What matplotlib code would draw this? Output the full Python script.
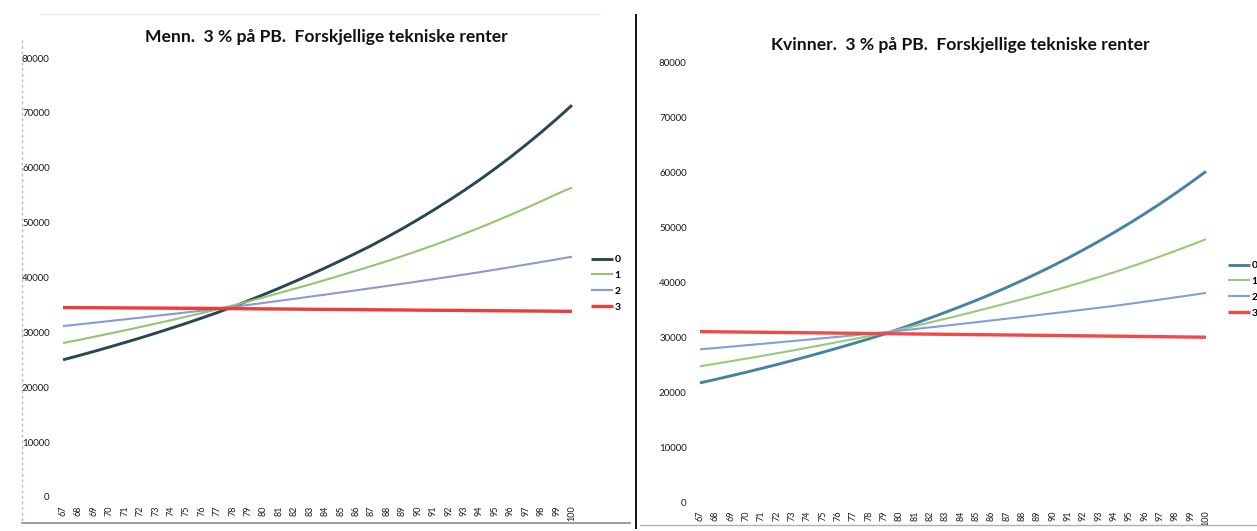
import matplotlib
matplotlib.use("Agg")
import matplotlib.pyplot as plt
from matplotlib.lines import Line2D

plt.rcParams['font.family'] = ['Lato', 'DejaVu Sans']

ages = list(range(67, 101))
age_labels = [str(a) for a in ages]
series_names = ["0", "1", "2", "3"]

# Men, 3 % on PB, technical interest 0..3 %
men_r0 = [25000, 25750, 26520, 27320, 28140, 28980, 29850, 30750, 31670, 32620,
          33600, 34660, 35750, 36880, 38040, 39240, 40480, 41750, 43070, 44430,
          45830, 47340, 48900, 50540, 52240, 54010, 55850, 57770, 59800, 61920,
          64150, 66460, 68880, 71400]
men_r1 = [28050, 28610, 29180, 29770, 30360, 30970, 31590, 32220, 32870, 33520,
          34190, 34910, 35640, 36390, 37160, 37940, 38730, 39550, 40380, 41230,
          42090, 42970, 43900, 44860, 45850, 46880, 47960, 49060, 50220, 51400,
          52630, 53890, 55190, 56400]
men_r2 = [31150, 31450, 31750, 32060, 32370, 32680, 33000, 33320, 33640, 33960,
          34290, 34640, 35000, 35370, 35740, 36120, 36500, 36880, 37270, 37660,
          38060, 38460, 38860, 39270, 39690, 40110, 40530, 40960, 41420, 41880,
          42350, 42820, 43300, 43790]
men_r3 = [34520, 34500, 34490, 34470, 34460, 34440, 34430, 34410, 34390, 34380,
          34360, 34330, 34310, 34280, 34260, 34240, 34210, 34190, 34170, 34140,
          34120, 34100, 34080, 34050, 34030, 34010, 33990, 33970, 33940, 33920,
          33900, 33880, 33850, 33830]

# Women, 3 % on PB, technical interest 0..3 %
women_r0 = [21700, 22330, 22980, 23640, 24330, 25030, 25760, 26510, 27280, 28070,
            28880, 29720, 30580, 31530, 32510, 33520, 34560, 35630, 36730, 37890,
            39100, 40360, 41670, 43040, 44460, 45950, 47490, 49110, 50780, 52530,
            54340, 56240, 58210, 60250]
women_r1 = [24730, 25180, 25650, 26120, 26600, 27090, 27590, 28100, 28620, 29150,
            29690, 30240, 30800, 31420, 32060, 32720, 33390, 34070, 34770, 35480,
            36210, 36950, 37710, 38480, 39290, 40120, 40980, 41860, 42780, 43740,
            44730, 45760, 46810, 47890]
women_r2 = [27820, 28060, 28310, 28560, 28810, 29060, 29320, 29580, 29840, 30100,
            30370, 30640, 30910, 31210, 31510, 31820, 32130, 32440, 32760, 33080,
            33400, 33720, 34050, 34380, 34710, 35050, 35390, 35730, 36110, 36500,
            36890, 37290, 37690, 38100]
women_r3 = [31050, 31020, 30990, 30960, 30930, 30900, 30870, 30840, 30810, 30780,
            30750, 30720, 30690, 30650, 30620, 30590, 30560, 30530, 30500, 30470,
            30440, 30410, 30380, 30350, 30310, 30280, 30250, 30220, 30190, 30160,
            30130, 30090, 30060, 30030]

y_ticks = [0, 10000, 20000, 30000, 40000, 50000, 60000, 70000, 80000]

W, H = 1257, 531
fig = plt.figure(figsize=(W / 100, H / 100), dpi=100)
fig.patch.set_facecolor("white")


def px_rect(x0, x1, y_top, y_bottom):
    return [x0 / W, 1 - y_bottom / H, (x1 - x0) / W, (y_bottom - y_top) / H]


def draw_panel(rect, title, title_xy, data, colors, widths, legend_xy):
    ax = fig.add_axes(rect)
    x = list(range(len(ages)))
    handles = []
    for vals, c, lw, name in zip(data, colors, widths, series_names):
        h, = ax.plot(x, vals, color=c, lw=lw, solid_capstyle="butt", label=name)
        handles.append(h)
    ax.set_xlim(-0.5, len(ages) - 0.5)
    ax.set_ylim(0, 80000)
    ax.set_yticks(y_ticks)
    ax.set_yticklabels([str(v) for v in y_ticks], fontsize=7, color="#1a1a1a")
    ax.set_xticks(x)
    ax.set_xticklabels(age_labels, rotation=90, fontsize=6.5, color="#1a1a1a")
    ax.tick_params(axis="y", length=0, pad=4)
    ax.tick_params(axis="x", length=0, pad=6)
    for s in ax.spines.values():
        s.set_visible(False)
    fig.text(title_xy[0] / W, 1 - title_xy[1] / H, title, fontsize=12.6,
             fontweight="bold", ha="center", va="center", color="#111111")
    ax.legend(handles=handles, loc="upper left",
              bbox_to_anchor=(legend_xy[0] / W, 1 - legend_xy[1] / H),
              bbox_transform=fig.transFigure, frameon=False,
              handlelength=2.1, handletextpad=0.15, labelspacing=0.62,
              borderpad=0, borderaxespad=0, prop={"weight": "bold", "size": 7.5})
    return ax


draw_panel(px_rect(55.3, 579.7, 58, 497),
           "Menn.  3 % på PB.  Forskjellige tekniske renter", (326, 37),
           [men_r0, men_r1, men_r2, men_r3],
           ["#274850", "#93c46f", "#8a9acd", "#ef3b3b"],
           [2.1, 1.5, 1.5, 2.4], (591, 255))

draw_panel(px_rect(692.3, 1213.7, 63, 502),
           "Kvinner.  3 % på PB.  Forskjellige tekniske renter", (960, 45),
           [women_r0, women_r1, women_r2, women_r3],
           ["#4584a0", "#98c97a", "#7f9fd8", "#f2484a"],
           [2.1, 1.5, 1.5, 2.4], (1228, 261))

# frame lines around the two charts
frame = [
    ((22, 22), (40, 522), "#9fc3cf", 1.0, (0, (2, 2))),
    ((22, 630), (523, 523), "#8a8a8a", 1.2, "-"),
    ((636, 636), (15, 528), "#111111", 1.4, "-"),
    ((640, 1257), (525, 525), "#b0b0b0", 1.0, "-"),
    ((40, 600), (14, 14), "#efefef", 1.0, "-"),
]
for xs, ys, c, lw, ls in frame:
    fig.add_artist(Line2D([xs[0] / W, xs[1] / W], [1 - ys[0] / H, 1 - ys[1] / H],
                          transform=fig.transFigure, color=c, lw=lw, ls=ls))

fig.savefig("out.png", dpi=100)
